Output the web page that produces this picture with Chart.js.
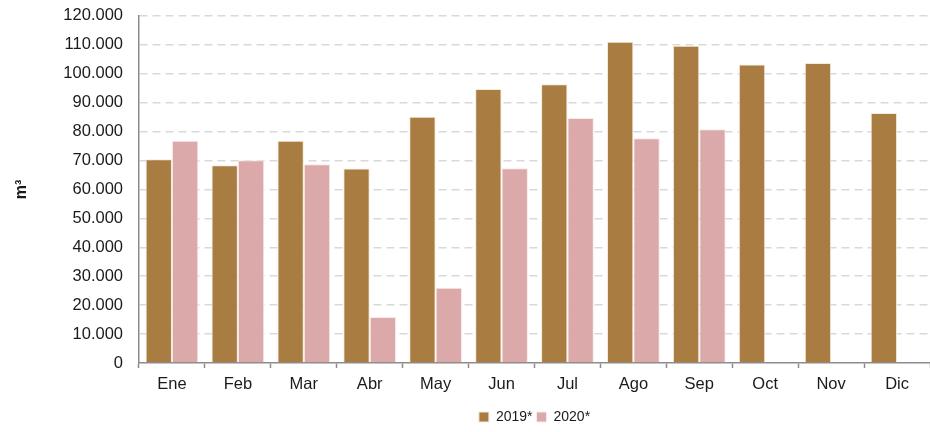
<!DOCTYPE html>
<html>
<head>
<meta charset="utf-8">
<script src="https://cdn.jsdelivr.net/npm/chart.js@4"></script>
<style>
  html, body { margin: 0; padding: 0; background: #fff; }
  #wrap { width: 930px; height: 432px; }
</style>
</head>
<body>
<div id="wrap"><canvas id="chart" width="930" height="432"></canvas></div>
<script>
// Monthly volumes (m3)
const months = ['Ene', 'Feb', 'Mar', 'Abr', 'May', 'Jun', 'Jul', 'Ago', 'Sep', 'Oct', 'Nov', 'Dic'];
const values2019 = [70400, 68400, 76800, 67200, 85100, 94700, 96400, 111100, 109700, 103200, 103700, 86400];
const values2020 = [76800, 70100, 68700, 15900, 26000, 67300, 84700, 77700, 80800, null, null, null];
const yTicks = [0, 10000, 20000, 30000, 40000, 50000, 60000, 70000, 80000, 90000, 100000, 110000, 120000];

const COLORS = {
    y2019: '#a97d42',
    y2020: '#dba9aa',
    grid: '#d9d9d9',
    axis: '#8c8c8c',
    text: '#1a1a1a'
};

const FONT = 'Liberation Sans, Arial, Helvetica, sans-serif';

// 120000 -> "120.000"
function formatThousands(num) {
    return num.toString().replace(/\B(?=(\d{3})+(?!\d))/g, '.');
}

// pull the legend a couple of pixels closer to the bottom edge
const legendNudge = {
    id: 'legendNudge',
    beforeInit(chart) {
        const fit = chart.legend.fit;
        chart.legend.fit = function() {
            fit.call(this);
            this.height -= 2;
        };
    }
};

new Chart(document.getElementById('chart').getContext('2d'), {
    type: 'bar',
    data: {
        labels: months,
        datasets: [
            {
                label: '2019*',
                data: values2019,
                backgroundColor: COLORS.y2019,
                borderColor: '#f4ead9',
                borderWidth: 1
            },
            {
                label: '2020*',
                data: values2020,
                backgroundColor: COLORS.y2020,
                borderColor: '#f7eaea',
                borderWidth: 1
            }
        ]
    },
    plugins: [legendNudge],
    options: {
        responsive: false,
        animation: false,
        layout: { padding: { left: 8, right: 0, top: 0, bottom: 0 } },
        datasets: {
            bar: { categoryPercentage: 0.8, barPercentage: 1.0 }
        },
        plugins: {
            legend: {
                position: 'bottom',
                // centre the legend under the plot area, not the whole canvas
                fullSize: false,
                labels: {
                    boxWidth: 10,
                    boxHeight: 10,
                    padding: 4,
                    color: COLORS.text,
                    font: { family: FONT, size: 14 }
                }
            },
            tooltip: { enabled: false }
        },
        scales: {
            x: {
                offset: true,
                afterFit: scale => { scale.height = 43; },
                grid: {
                    offset: true,
                    drawOnChartArea: false,
                    drawTicks: true,
                    tickLength: 5,
                    tickColor: COLORS.axis,
                    tickWidth: 1.5
                },
                border: { color: COLORS.axis, width: 1.5 },
                ticks: {
                    color: COLORS.text,
                    padding: 7,
                    font: { family: FONT, size: 16.5 }
                }
            },
            y: {
                min: 0,
                max: 120000,
                afterBuildTicks: scale => {
                    scale.ticks = yTicks.map(v => ({ value: v }));
                },
                afterFit: scale => { scale.width = 131; },
                grid: {
                    color: ctx => (ctx.tick && ctx.tick.value === 0) ? 'rgba(0,0,0,0)' : COLORS.grid,
                    lineWidth: 1.5,
                    // invisible ticks only push the labels away from the axis
                    drawTicks: true,
                    tickLength: 10,
                    tickColor: 'rgba(0,0,0,0)'
                },
                border: { color: COLORS.axis, width: 1.5, dash: [8, 5] },
                ticks: {
                    color: COLORS.text,
                    padding: 6,
                    font: { family: FONT, size: 16.5 },
                    callback: value => formatThousands(value)
                },
                title: {
                    display: true,
                    text: 'm³',
                    color: COLORS.text,
                    padding: { top: 4, bottom: 20 },
                    font: { family: FONT, size: 16, weight: 'bold' }
                }
            }
        }
    }
});
</script>
</body>
</html>
